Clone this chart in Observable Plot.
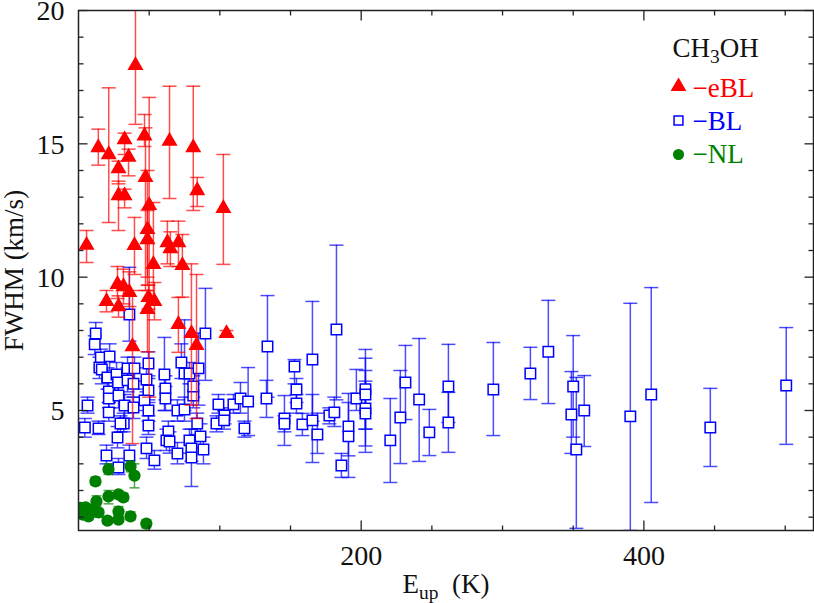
<!DOCTYPE html>
<html><head><meta charset="utf-8">
<script src="https://cdn.jsdelivr.net/npm/d3@7"></script>
<script src="https://cdn.jsdelivr.net/npm/@observablehq/plot@0.6"></script>
<style>body{margin:0;background:#fff;}</style>
</head><body><div id="chart"></div>
<script>
// ---- data: E_up (K), FWHM (km/s), error low / high ----
const eblX  = [5.7,14,21.4,28.3,28.3,32.6,32.6,35.4,40.3,46.7,47.4,50,48.8,48.8,53,39.6,64.4,62.9,65,70.7,73.5,81.2,84,102.5,19.8,28.3,27.6,31.8,36,49.5,48.8,53.7,38.2,70.7,79.9,83.5,104.7];
const eblY  = [11.2,14.86,14.6,14.07,13.06,13.06,15.16,14.5,17.94,15.3,13.74,12.69,11.79,11.41,10.48,11.19,15.1,11.3,11.07,11.3,10.44,14.86,13.25,12.58,9.09,8.9,9.73,9.65,9.43,9.24,8.79,9.09,7.4,8.23,7.89,7.44,7.89];
const eblLo = [10.55,14.2,12.05,13.5,11.75,12.6,14.6,13.8,15.73,14.9,9.5,5.5,9.7,10.0,9.0,10.1,12.95,10.5,10.4,10.4,9.25,12.5,12.65,10.48,8.7,8.5,9.2,9.0,8.9,8.8,7.2,8.4,3.76,7.18,5.2,4.7,7.8];
const eblHi = [11.75,15.55,17.1,14.35,13.6,13.3,15.4,14.8,20.5,16.1,15.6,16.74,14.0,12.5,12.8,12.24,17.16,12.1,11.7,12.1,11.6,17.16,13.74,14.6,9.5,9.3,10.4,10.3,10.2,9.7,9.5,9.8,9.5,9.24,10.5,10.1,8.0];

const blX  = [4.5,6.4,12.2,11.5,15.8,22,14.2,14.8,16.5,20.5,21.5,21.5,21.4,26.9,28,28.3,32.6,32,34.7,34.7,27.6,19.8,28.3,36,36,39.6,38.9,38.9,49.5,48.1,49.5,46.7,49.5,49.5,48.1,53.7,29.7,60.8,61.5,61.5,63.6,62.2,64.4,70,75,70,72.8,75,78.5,78.5,79.9,79.9,84,86.3,88.4,84.9,89.8,81.2,81.2,97.6,99,103.3,103,109.6,114.6,120,117.4,133.7,133,145.7,145.7,152.8,154.2,154.2,158.4,165.5,165.5,169,182.5,177.5,181,186,191,191,196.6,203,203,203,203,220.6,227.7,231.3,241,248.2,261.7,261.7,293.5,319.7,332.4,350,348.7,352.2,357.8,390.4,405.2,447,500.7];
const blY  = [4.36,5.19,7.89,7.48,6.99,7.03,4.33,6.61,6.54,6.24,5.71,5.45,4.93,6.35,6.05,5.56,5.19,4.51,6.58,6.13,3.99,3.31,2.86,3.31,8.6,6.58,6.0,5.11,6.76,6.16,5.75,5.38,5.0,4.44,3.58,3.13,4.51,6.35,5.83,5.45,4.21,3.88,3.84,5.0,5.04,3.39,6.8,6.39,6.39,3.88,3.58,3.24,4.51,4.03,3.54,6.58,7.89,5.56,5.9,4.51,5.23,4.81,4.63,5.23,5.45,5.34,4.33,7.4,5.45,4.7,4.5,6.65,5.79,5.26,4.48,6.91,4.63,4.1,8.04,4.81,4.93,2.94,4.4,4.03,5.45,5.8,5.6,5.08,4.89,3.88,4.74,6.05,5.41,4.18,5.9,4.55,5.79,6.39,7.2,5.9,4.85,3.54,5.0,4.78,5.6,4.36,5.94];
const blLo = [4.0,4.9,7.5,7.1,6.6,6.5,4.1,6.2,6.0,5.8,5.3,5.1,4.6,5.9,5.6,5.1,4.7,4.2,6.1,5.7,3.6,3.0,2.6,3.0,7.6,6.1,5.5,4.7,6.3,5.7,5.3,5.0,4.6,4.1,3.2,2.8,4.2,5.0,5.4,5.0,3.8,3.5,3.4,4.6,4.6,3.0,6.2,5.0,6.0,3.4,3.1,2.15,4.1,3.6,3.0,5.2,6.13,5.1,5.5,4.2,4.9,4.5,4.3,4.9,4.9,4.06,4.0,5.5,4.74,3.69,4.2,6.0,5.3,4.9,4.06,4.6,3.05,3.39,5.4,4.5,4.4,2.49,3.3,2.49,5.0,4.3,3.43,3.67,4.3,2.3,3.01,4.66,3.09,3.31,4.55,3.43,4.06,5.41,5.26,4.0,3.39,0.58,3.65,0.5,1.55,2.9,3.73];
const blHi = [4.7,5.5,8.3,7.8,7.3,7.5,4.6,7.0,7.0,6.6,6.1,5.8,5.3,6.8,6.5,6.0,5.6,4.9,7.0,6.6,4.4,3.7,3.2,3.7,10.37,7.0,6.4,5.5,7.2,6.6,6.2,5.8,5.4,4.8,4.0,3.5,4.8,7.74,6.3,5.9,4.6,4.3,4.2,5.4,5.5,3.8,7.5,8.4,6.8,4.3,4.0,4.3,4.9,4.5,4.0,7.9,9.58,6.0,6.3,4.8,5.6,5.1,5.0,5.6,6.05,6.61,4.6,9.31,6.13,5.56,4.8,6.91,6.2,5.6,4.89,9.09,5.6,4.9,11.2,5.1,5.5,3.39,5.3,5.64,6.54,7.29,6.96,6.5,6.1,5.45,6.5,7.44,7.7,5.04,7.48,5.68,7.55,7.37,9.13,7.81,6.46,6.24,6.31,9.02,9.61,5.83,8.11];

const nlX  = [21.2,36.8,39.6,12,21.2,28.3,31.8,12.7,5,9.2,2.8,7,14.2,28.3,28.3,20.5,36.8,48,1.5];
const nlY  = [2.79,2.9,2.56,2.34,1.78,1.85,1.74,1.59,1.37,1.25,1.1,1.03,1.18,1.21,0.91,0.87,1.03,0.76,1.35];
const nlLo = [2.6,2.7,2.1,2.2,1.5,1.7,1.6,1.4,1.2,1.1,1.0,0.9,1.0,1.0,0.8,0.75,0.9,0.6,1.2];
const nlHi = [3.0,3.1,3.0,2.5,2.0,2.0,1.9,1.8,1.5,1.4,1.25,1.2,1.3,1.4,1.05,1.0,1.2,0.9,1.5];

const xTicks = [200, 400];
const yTicks = [5, 10, 15, 20];
const xDomain = [0, 520];
const yDomain = [0.5, 20];
const xTitle = "E_up (K)";
const yTitle = "FWHM (km/s)";
const legendTitle = "CH3OH";
const legendLabels = ["\u2212eBL", "\u2212BL", "\u2212NL"];

// ---- build ----
const rows = (X, Y, L, H) => X.map((x, i) => ({x, y: Y[i], lo: L[i], hi: H[i]}));
const ebl = rows(eblX, eblY, eblLo, eblHi);
const bl  = rows(blX, blY, blLo, blHi);
const nl  = rows(nlX, nlY, nlLo, nlHi);

const RED = "#ff0000", BLUE = "#0000ff", GREEN = "#008000";
const FONT = "'Liberation Serif', 'DejaVu Serif', serif";
const line = (dx, dy, ox = 0, oy = 0) => ({draw(ctx) { ctx.moveTo(ox, oy); ctx.lineTo(dx, dy); }});
const cap = (w) => line(w, 0, -w, 0);

function errorSeries(data, color, symbol, r, fill, capW) {
  return [
    Plot.ruleX(data, {x: "x", y1: "lo", y2: "hi", stroke: color, strokeOpacity: 0.7, strokeWidth: 1.5, clip: true}),
    Plot.dot(data, {x: "x", y: "lo", symbol: cap(capW), fill: "none", stroke: color, strokeOpacity: 0.7, strokeWidth: 1.5, clip: true}),
    Plot.dot(data, {x: "x", y: "hi", symbol: cap(capW), fill: "none", stroke: color, strokeOpacity: 0.7, strokeWidth: 1.5, clip: true}),
    Plot.dot(data, {x: "x", y: "y", symbol, r, fill, stroke: color, strokeWidth: 1.5, clip: true})
  ];
}

const xMinor = d3.range(50, 520, 50).filter(v => !xTicks.includes(v));
const yMinor = d3.range(1, 20, 1).filter(v => !yTicks.includes(v));
const TK = "#222";
const leg = {frameAnchor: "top-right", textAnchor: "start", lineAnchor: "middle", fontSize: 27};

const plot = Plot.plot({
  width: 814, height: 603,
  marginTop: 10, marginRight: 1, marginBottom: 73, marginLeft: 78,
  style: `font-family: ${FONT}; font-size: 28px; color: #111; background: #fff; overflow: visible;`,
  x: {domain: xDomain},
  y: {domain: yDomain},
  marks: [
    ...errorSeries(bl, BLUE, "square", 5.9, "white", 7),
    ...errorSeries(nl, GREEN, "circle", 5.4, GREEN, 5),
    ...errorSeries(ebl, RED, "triangle", 5, RED, 7),
    Plot.frame({stroke: TK, strokeWidth: 1.5}),
    // inward ticks
    Plot.dot(xTicks, {x: d => d, frameAnchor: "bottom", symbol: line(0, -10), fill: "none", stroke: TK, strokeWidth: 1.3}),
    Plot.dot(xMinor, {x: d => d, frameAnchor: "bottom", symbol: line(0, -5), fill: "none", stroke: TK, strokeWidth: 1.3}),
    Plot.dot(xTicks, {x: d => d, frameAnchor: "top", symbol: line(0, 10), fill: "none", stroke: TK, strokeWidth: 1.3}),
    Plot.dot(xMinor, {x: d => d, frameAnchor: "top", symbol: line(0, 5), fill: "none", stroke: TK, strokeWidth: 1.3}),
    Plot.dot(yTicks, {y: d => d, frameAnchor: "left", symbol: line(9, 0), fill: "none", stroke: TK, strokeWidth: 1.3}),
    Plot.dot(yMinor, {y: d => d, frameAnchor: "left", symbol: line(5, 0), fill: "none", stroke: TK, strokeWidth: 1.3}),
    Plot.dot(yTicks, {y: d => d, frameAnchor: "right", symbol: line(-9, 0), fill: "none", stroke: TK, strokeWidth: 1.3}),
    Plot.dot(yMinor, {y: d => d, frameAnchor: "right", symbol: line(-5, 0), fill: "none", stroke: TK, strokeWidth: 1.3}),
    Plot.axisX(xTicks, {tickSize: 0, tickPadding: 15, label: null, fontSize: 28, fill: "#111"}),
    Plot.axisY(yTicks, {tickSize: 0, tickPadding: 14, label: null, fontSize: 28, fill: "#111", dy: 1}),
    Plot.text([yTitle], {frameAnchor: "left", textAnchor: "middle", lineAnchor: "middle", dx: -64, rotate: -90, fontSize: 27, fill: "#111"}),
    Plot.text([xTitle], {frameAnchor: "bottom", textAnchor: "middle", lineAnchor: "middle", dy: 54, fontSize: 27, fill: "#111"}),
    // legend
    Plot.text([legendTitle], {...leg, dx: -141, dy: 38, fill: "#111"}),
    Plot.dot([0], {x: null, y: null, frameAnchor: "top-right", dx: -135, dy: 76, symbol: "triangle", r: 4.9, fill: RED, stroke: RED}),
    Plot.dot([0], {x: null, y: null, frameAnchor: "top-right", dx: -135, dy: 110, symbol: "square", r: 5, fill: "white", stroke: BLUE, strokeWidth: 1.5}),
    Plot.dot([0], {x: null, y: null, frameAnchor: "top-right", dx: -135, dy: 144, symbol: "circle", r: 4.8, fill: GREEN, stroke: GREEN}),
    Plot.text([legendLabels[0]], {...leg, dx: -121, dy: 78, fill: RED}),
    Plot.text([legendLabels[1]], {...leg, dx: -121, dy: 111, fill: BLUE}),
    Plot.text([legendLabels[2]], {...leg, dx: -121, dy: 144, fill: GREEN})
  ]
});

// subscripts
function subscript(content, parts) {
  const t = d3.select(plot).selectAll("text").filter(function () { return this.textContent === content; });
  if (t.empty()) return;
  t.text(null);
  parts.forEach(([s, mode]) => {
    const ts = t.append("tspan").text(s);
    if (mode === "sub") ts.attr("font-size", "0.72em").attr("dy", "6");
    else if (mode === "back") ts.attr("dy", "-6");
  });
}
subscript(xTitle, [["E"], ["up", "sub"], ["\u2002(K)", "back"]]);
subscript(legendTitle, [["CH"], ["3", "sub"], ["OH", "back"]]);

document.getElementById("chart").appendChild(plot);
</script>
</body></html>
